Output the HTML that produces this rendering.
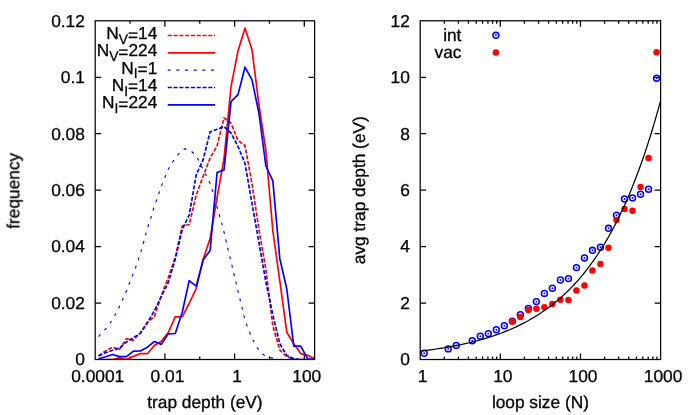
<!DOCTYPE html>
<html><head><meta charset="utf-8"><title>plot</title>
<style>
html,body{margin:0;padding:0;background:#fff;}
body{width:692px;height:415px;overflow:hidden;}
svg{display:block;}
text{font-family:"Liberation Sans",sans-serif;font-size:17.3px;fill:#000;stroke:#000;stroke-width:0.3px;text-rendering:geometricPrecision;}
.tk{font-size:17.35px;}
.ax{stroke:#000;stroke-width:1.25;fill:none;}
</style></head><body>
<svg width="692" height="415" viewBox="0 0 692 415">
<rect width="692" height="415" fill="#fff"/>
<g opacity="0.999">

<path class="ax" d="M95.2 303.05h6.0M314.6 303.05h-6.0"/>
<path class="ax" d="M420.2 303.05h6.0M660.6 303.05h-6.0"/>
<path class="ax" d="M95.2 246.60h6.0M314.6 246.60h-6.0"/>
<path class="ax" d="M420.2 246.60h6.0M660.6 246.60h-6.0"/>
<path class="ax" d="M95.2 190.15h6.0M314.6 190.15h-6.0"/>
<path class="ax" d="M420.2 190.15h6.0M660.6 190.15h-6.0"/>
<path class="ax" d="M95.2 133.70h6.0M314.6 133.70h-6.0"/>
<path class="ax" d="M420.2 133.70h6.0M660.6 133.70h-6.0"/>
<path class="ax" d="M95.2 77.25h6.0M314.6 77.25h-6.0"/>
<path class="ax" d="M420.2 77.25h6.0M660.6 77.25h-6.0"/>
<path class="ax" d="M130.05 359.5v-3.0M130.05 20.8v3.0"/>
<path class="ax" d="M164.90 359.5v-6.0M164.90 20.8v6.0"/>
<path class="ax" d="M199.75 359.5v-3.0M199.75 20.8v3.0"/>
<path class="ax" d="M234.60 359.5v-6.0M234.60 20.8v6.0"/>
<path class="ax" d="M269.45 359.5v-3.0M269.45 20.8v3.0"/>
<path class="ax" d="M304.30 359.5v-6.0M304.30 20.8v6.0"/>
<path class="ax" d="M444.32 359.5v-3.0M444.32 20.8v3.0"/>
<path class="ax" d="M458.43 359.5v-3.0M458.43 20.8v3.0"/>
<path class="ax" d="M468.45 359.5v-3.0M468.45 20.8v3.0"/>
<path class="ax" d="M476.21 359.5v-3.0M476.21 20.8v3.0"/>
<path class="ax" d="M482.56 359.5v-3.0M482.56 20.8v3.0"/>
<path class="ax" d="M487.92 359.5v-3.0M487.92 20.8v3.0"/>
<path class="ax" d="M492.57 359.5v-3.0M492.57 20.8v3.0"/>
<path class="ax" d="M496.67 359.5v-3.0M496.67 20.8v3.0"/>
<path class="ax" d="M500.33 359.5v-6.0M500.33 20.8v6.0"/>
<path class="ax" d="M524.46 359.5v-3.0M524.46 20.8v3.0"/>
<path class="ax" d="M538.57 359.5v-3.0M538.57 20.8v3.0"/>
<path class="ax" d="M548.58 359.5v-3.0M548.58 20.8v3.0"/>
<path class="ax" d="M556.34 359.5v-3.0M556.34 20.8v3.0"/>
<path class="ax" d="M562.69 359.5v-3.0M562.69 20.8v3.0"/>
<path class="ax" d="M568.05 359.5v-3.0M568.05 20.8v3.0"/>
<path class="ax" d="M572.70 359.5v-3.0M572.70 20.8v3.0"/>
<path class="ax" d="M576.80 359.5v-3.0M576.80 20.8v3.0"/>
<path class="ax" d="M580.47 359.5v-6.0M580.47 20.8v6.0"/>
<path class="ax" d="M604.59 359.5v-3.0M604.59 20.8v3.0"/>
<path class="ax" d="M618.70 359.5v-3.0M618.70 20.8v3.0"/>
<path class="ax" d="M628.71 359.5v-3.0M628.71 20.8v3.0"/>
<path class="ax" d="M636.48 359.5v-3.0M636.48 20.8v3.0"/>
<path class="ax" d="M642.82 359.5v-3.0M642.82 20.8v3.0"/>
<path class="ax" d="M648.19 359.5v-3.0M648.19 20.8v3.0"/>
<path class="ax" d="M652.83 359.5v-3.0M652.83 20.8v3.0"/>
<path class="ax" d="M656.93 359.5v-3.0M656.93 20.8v3.0"/>
<clipPath id="cl"><rect x="95.2" y="18.8" width="219.40000000000003" height="341.3"/></clipPath>
<g clip-path="url(#cl)" fill="none" stroke-linejoin="round" stroke-linecap="butt">
<polyline points="98.60,355.90 105.57,351.00 112.54,347.20 119.51,349.30 126.48,338.60 133.45,340.30 140.42,332.50 147.39,322.10 154.36,316.80 161.33,295.50 168.30,277.50 175.27,257.50 182.24,226.00 189.21,224.50 196.18,195.30 203.15,176.20 210.12,158.00 217.09,145.90 224.06,117.80 231.03,123.20 238.00,140.50 244.97,145.50 251.94,183.30 258.91,229.30 265.88,269.50 272.85,326.00 279.82,350.10 286.79,356.70 293.76,359.00 300.73,359.50 307.70,359.50 314.67,359.50" stroke="#ff0000" stroke-width="1.7" stroke-dasharray="4.1 1.7"/>
<polyline points="98.60,359.50 105.57,359.50 112.54,359.50 119.51,357.80 126.48,359.50 133.45,356.40 140.42,353.50 147.39,353.70 154.36,345.50 161.33,341.20 168.30,332.50 175.27,316.90 182.24,316.90 189.21,303.40 196.18,288.50 203.15,259.30 210.12,238.50 217.09,197.40 224.06,158.50 231.03,86.50 238.00,51.00 244.97,28.00 251.94,49.40 258.91,104.50 265.88,150.50 272.85,231.00 279.82,281.00 286.79,332.20 293.76,343.70 300.73,353.60 307.70,355.30 314.67,358.80" stroke="#ff0000" stroke-width="1.7"/>
<polyline points="98.60,336.60 99.50,335.40 105.60,329.00 110.30,323.00 115.00,315.30 119.00,307.50 122.50,299.70 126.20,291.60 129.20,283.70 132.40,275.80 135.50,267.70 138.40,259.40 141.10,251.20 143.50,242.80 145.70,234.50 148.00,226.40 150.80,218.20 153.20,209.80 156.10,201.40 158.90,193.20 161.80,185.10 165.00,177.20 168.10,169.50 172.80,161.70 177.90,154.80 180.60,151.70 183.00,149.50 185.50,148.90 188.50,149.60 191.30,151.20 194.30,154.00 197.10,157.30 200.80,164.90 204.90,172.90 208.90,180.50 211.60,187.80 214.10,196.80 216.40,204.90 218.90,213.50 221.30,221.70 223.50,230.20 225.60,238.50 227.50,247.20 229.50,255.30 231.60,263.90 233.50,272.10 235.60,280.80 237.50,289.10 239.60,297.60 241.60,306.00 243.50,314.00 245.40,321.80 248.90,330.50 252.30,338.50 256.40,346.60 261.60,353.60 268.50,357.40 277.80,359.00" stroke="#0000ff" stroke-width="1.15" stroke-dasharray="2.9 5.77"/>
<polyline points="98.60,355.90 105.57,352.80 112.54,350.30 119.51,348.10 126.48,342.00 133.45,337.70 140.42,333.40 147.39,322.90 154.36,310.80 161.33,296.50 168.30,282.50 175.27,259.00 182.24,229.50 189.21,215.00 196.18,175.00 203.15,159.60 210.12,131.90 217.09,129.20 224.06,126.70 231.03,133.00 238.00,146.50 244.97,163.30 251.94,203.00 258.91,242.50 265.88,282.00 272.85,315.00 279.82,343.70 286.79,355.50 293.76,358.80 300.73,359.50 307.70,359.50 314.67,359.50" stroke="#0000ff" stroke-width="1.7" stroke-dasharray="4.1 1.7"/>
<polyline points="98.60,358.70 105.57,356.70 112.54,354.50 119.51,356.60 126.48,356.70 133.45,351.10 140.42,351.00 147.39,347.20 154.36,341.50 161.33,344.40 168.30,333.90 175.27,333.50 182.24,312.20 189.21,280.60 196.18,286.20 203.15,260.10 210.12,250.60 217.09,172.50 224.06,169.90 231.03,101.60 238.00,94.60 244.97,67.20 251.94,79.60 258.91,113.00 265.88,166.00 272.85,180.80 279.82,258.70 286.79,289.00 293.76,346.10 300.73,346.10 307.70,358.80 314.67,359.50" stroke="#0000ff" stroke-width="1.7"/>
</g>
<rect class="ax" x="95.2" y="20.8" width="219.40000000000003" height="338.7"/>
<text class="tk" transform="translate(84.9 365.30) scale(1 1)" text-anchor="end">0</text>
<text class="tk" transform="translate(84.9 308.85) scale(1 1)" text-anchor="end">0.02</text>
<text class="tk" transform="translate(84.9 252.40) scale(1 1)" text-anchor="end">0.04</text>
<text class="tk" transform="translate(84.9 195.95) scale(1 1)" text-anchor="end">0.06</text>
<text class="tk" transform="translate(84.9 139.50) scale(1 1)" text-anchor="end">0.08</text>
<text class="tk" transform="translate(84.9 83.05) scale(1 1)" text-anchor="end">0.1</text>
<text class="tk" transform="translate(84.9 26.60) scale(1 1)" text-anchor="end">0.12</text>
<text class="tk" transform="translate(409.9 365.30) scale(1 1)" text-anchor="end">0</text>
<text class="tk" transform="translate(409.9 308.85) scale(1 1)" text-anchor="end">2</text>
<text class="tk" transform="translate(409.9 252.40) scale(1 1)" text-anchor="end">4</text>
<text class="tk" transform="translate(409.9 195.95) scale(1 1)" text-anchor="end">6</text>
<text class="tk" transform="translate(409.9 139.50) scale(1 1)" text-anchor="end">8</text>
<text class="tk" transform="translate(409.9 83.05) scale(1 1)" text-anchor="end">10</text>
<text class="tk" transform="translate(409.9 26.60) scale(1 1)" text-anchor="end">12</text>
<text class="tk" transform="translate(97.70 382.4) scale(1 1)" text-anchor="middle">0.0001</text>
<text class="tk" transform="translate(167.40 382.4) scale(1 1)" text-anchor="middle">0.01</text>
<text class="tk" transform="translate(237.10 382.4) scale(1 1)" text-anchor="middle">1</text>
<text class="tk" transform="translate(306.80 382.4) scale(1 1)" text-anchor="middle">100</text>
<text class="tk" transform="translate(422.70 382.4) scale(1 1)" text-anchor="middle">1</text>
<text class="tk" transform="translate(502.83 382.4) scale(1 1)" text-anchor="middle">10</text>
<text class="tk" transform="translate(582.97 382.4) scale(1 1)" text-anchor="middle">100</text>
<text class="tk" transform="translate(663.10 382.4) scale(1 1)" text-anchor="middle">1000</text>
<text x="204.90" y="408.1" text-anchor="middle">trap depth (eV)</text>
<text x="540.40" y="408.1" text-anchor="middle">loop size (N)</text>
<text transform="translate(19.3 190.8) rotate(-90)" text-anchor="middle">frequency</text>
<text transform="translate(365.2 190.2) rotate(-90)" text-anchor="middle">avg trap depth (eV)</text>
<text x="157.3" y="39.10" text-anchor="end">N<tspan font-size="13.84" dy="4.6">V</tspan><tspan dy="-3.2">=</tspan><tspan dy="-1.4">14</tspan></text>
<path d="M167.7 35.50H215.2" fill="none" stroke="#ff0000" stroke-dasharray="4.1 1.7" stroke-width="1.7"/>
<text x="157.3" y="56.43" text-anchor="end">N<tspan font-size="13.84" dy="4.6">V</tspan><tspan dy="-3.2">=</tspan><tspan dy="-1.4">224</tspan></text>
<path d="M167.7 52.83H215.2" fill="none" stroke="#ff0000" stroke-width="1.7"/>
<text x="157.3" y="73.76" text-anchor="end">N<tspan font-size="13.84" dy="4.6">I</tspan><tspan dy="-3.2">=</tspan><tspan dy="-1.4">1</tspan></text>
<path d="M167.7 70.16H215.2" fill="none" stroke="#0000ff" stroke-dasharray="2.9 5.77" stroke-width="1.15"/>
<text x="157.3" y="91.09" text-anchor="end">N<tspan font-size="13.84" dy="4.6">I</tspan><tspan dy="-3.2">=</tspan><tspan dy="-1.4">14</tspan></text>
<path d="M167.7 87.49H215.2" fill="none" stroke="#0000ff" stroke-dasharray="4.1 1.7" stroke-width="1.7"/>
<text x="157.3" y="108.42" text-anchor="end">N<tspan font-size="13.84" dy="4.6">I</tspan><tspan dy="-3.2">=</tspan><tspan dy="-1.4">224</tspan></text>
<path d="M167.7 104.82H215.2" fill="none" stroke="#0000ff" stroke-width="1.7"/>
<circle cx="424.20" cy="353.20" r="2.95" fill="none" stroke="#0000ff" stroke-width="1.55"/><circle cx="424.20" cy="353.20" r="0.95" fill="#0000ff"/>
<circle cx="448.24" cy="348.90" r="2.95" fill="none" stroke="#0000ff" stroke-width="1.55"/><circle cx="448.24" cy="348.90" r="0.95" fill="#0000ff"/>
<circle cx="456.25" cy="345.40" r="2.95" fill="none" stroke="#0000ff" stroke-width="1.55"/><circle cx="456.25" cy="345.40" r="0.95" fill="#0000ff"/>
<circle cx="472.28" cy="340.70" r="2.95" fill="none" stroke="#0000ff" stroke-width="1.55"/><circle cx="472.28" cy="340.70" r="0.95" fill="#0000ff"/>
<circle cx="480.29" cy="336.20" r="2.95" fill="none" stroke="#0000ff" stroke-width="1.55"/><circle cx="480.29" cy="336.20" r="0.95" fill="#0000ff"/>
<circle cx="488.30" cy="333.60" r="2.95" fill="none" stroke="#0000ff" stroke-width="1.55"/><circle cx="488.30" cy="333.60" r="0.95" fill="#0000ff"/>
<circle cx="496.32" cy="329.80" r="2.95" fill="none" stroke="#0000ff" stroke-width="1.55"/><circle cx="496.32" cy="329.80" r="0.95" fill="#0000ff"/>
<circle cx="504.33" cy="325.80" r="2.95" fill="none" stroke="#0000ff" stroke-width="1.55"/><circle cx="504.33" cy="325.80" r="0.95" fill="#0000ff"/>
<circle cx="512.34" cy="321.10" r="2.95" fill="none" stroke="#0000ff" stroke-width="1.55"/><circle cx="512.34" cy="321.10" r="0.95" fill="#0000ff"/>
<circle cx="520.36" cy="314.70" r="2.95" fill="none" stroke="#0000ff" stroke-width="1.55"/><circle cx="520.36" cy="314.70" r="0.95" fill="#0000ff"/>
<circle cx="528.37" cy="308.40" r="2.95" fill="none" stroke="#0000ff" stroke-width="1.55"/><circle cx="528.37" cy="308.40" r="0.95" fill="#0000ff"/>
<circle cx="536.38" cy="301.60" r="2.95" fill="none" stroke="#0000ff" stroke-width="1.55"/><circle cx="536.38" cy="301.60" r="0.95" fill="#0000ff"/>
<circle cx="544.39" cy="293.40" r="2.95" fill="none" stroke="#0000ff" stroke-width="1.55"/><circle cx="544.39" cy="293.40" r="0.95" fill="#0000ff"/>
<circle cx="552.41" cy="288.20" r="2.95" fill="none" stroke="#0000ff" stroke-width="1.55"/><circle cx="552.41" cy="288.20" r="0.95" fill="#0000ff"/>
<circle cx="560.42" cy="280.00" r="2.95" fill="none" stroke="#0000ff" stroke-width="1.55"/><circle cx="560.42" cy="280.00" r="0.95" fill="#0000ff"/>
<circle cx="568.43" cy="278.60" r="2.95" fill="none" stroke="#0000ff" stroke-width="1.55"/><circle cx="568.43" cy="278.60" r="0.95" fill="#0000ff"/>
<circle cx="576.45" cy="267.60" r="2.95" fill="none" stroke="#0000ff" stroke-width="1.55"/><circle cx="576.45" cy="267.60" r="0.95" fill="#0000ff"/>
<circle cx="584.46" cy="257.90" r="2.95" fill="none" stroke="#0000ff" stroke-width="1.55"/><circle cx="584.46" cy="257.90" r="0.95" fill="#0000ff"/>
<circle cx="592.47" cy="250.30" r="2.95" fill="none" stroke="#0000ff" stroke-width="1.55"/><circle cx="592.47" cy="250.30" r="0.95" fill="#0000ff"/>
<circle cx="600.49" cy="247.20" r="2.95" fill="none" stroke="#0000ff" stroke-width="1.55"/><circle cx="600.49" cy="247.20" r="0.95" fill="#0000ff"/>
<circle cx="608.50" cy="228.30" r="2.95" fill="none" stroke="#0000ff" stroke-width="1.55"/><circle cx="608.50" cy="228.30" r="0.95" fill="#0000ff"/>
<circle cx="616.51" cy="215.20" r="2.95" fill="none" stroke="#0000ff" stroke-width="1.55"/><circle cx="616.51" cy="215.20" r="0.95" fill="#0000ff"/>
<circle cx="624.52" cy="199.00" r="2.95" fill="none" stroke="#0000ff" stroke-width="1.55"/><circle cx="624.52" cy="199.00" r="0.95" fill="#0000ff"/>
<circle cx="632.54" cy="197.90" r="2.95" fill="none" stroke="#0000ff" stroke-width="1.55"/><circle cx="632.54" cy="197.90" r="0.95" fill="#0000ff"/>
<circle cx="640.55" cy="194.20" r="2.95" fill="none" stroke="#0000ff" stroke-width="1.55"/><circle cx="640.55" cy="194.20" r="0.95" fill="#0000ff"/>
<circle cx="648.56" cy="189.20" r="2.95" fill="none" stroke="#0000ff" stroke-width="1.55"/><circle cx="648.56" cy="189.20" r="0.95" fill="#0000ff"/>
<circle cx="656.58" cy="78.15" r="2.95" fill="none" stroke="#0000ff" stroke-width="1.55"/><circle cx="656.58" cy="78.15" r="0.95" fill="#0000ff"/>
<circle cx="512.34" cy="321.50" r="3.25" fill="#ff0000"/>
<circle cx="520.36" cy="316.90" r="3.25" fill="#ff0000"/>
<circle cx="528.37" cy="310.00" r="3.25" fill="#ff0000"/>
<circle cx="536.38" cy="308.70" r="3.25" fill="#ff0000"/>
<circle cx="544.39" cy="307.20" r="3.25" fill="#ff0000"/>
<circle cx="552.41" cy="303.90" r="3.25" fill="#ff0000"/>
<circle cx="560.42" cy="299.70" r="3.25" fill="#ff0000"/>
<circle cx="568.43" cy="300.00" r="3.25" fill="#ff0000"/>
<circle cx="576.45" cy="290.40" r="3.25" fill="#ff0000"/>
<circle cx="584.46" cy="285.60" r="3.25" fill="#ff0000"/>
<circle cx="592.47" cy="270.60" r="3.25" fill="#ff0000"/>
<circle cx="600.49" cy="264.10" r="3.25" fill="#ff0000"/>
<circle cx="608.50" cy="247.70" r="3.25" fill="#ff0000"/>
<circle cx="616.51" cy="220.10" r="3.25" fill="#ff0000"/>
<circle cx="624.52" cy="209.10" r="3.25" fill="#ff0000"/>
<circle cx="632.54" cy="210.80" r="3.25" fill="#ff0000"/>
<circle cx="640.55" cy="187.00" r="3.25" fill="#ff0000"/>
<circle cx="648.56" cy="158.10" r="3.25" fill="#ff0000"/>
<circle cx="656.58" cy="52.30" r="3.25" fill="#ff0000"/>
<polyline points="420.20,351.12 422.20,350.88 424.20,350.64 426.20,350.38 428.20,350.12 430.20,349.86 432.20,349.58 434.20,349.30 436.20,349.00 438.20,348.70 440.20,348.40 442.20,348.08 444.20,347.75 446.20,347.41 448.20,347.07 450.20,346.71 452.20,346.34 454.20,345.97 456.20,345.58 458.20,345.18 460.20,344.77 462.20,344.34 464.20,343.91 466.20,343.46 468.20,343.00 470.20,342.52 472.20,342.03 474.20,341.53 476.20,341.01 478.20,340.48 480.20,339.93 482.20,339.36 484.20,338.78 486.20,338.18 488.20,337.57 490.20,336.93 492.20,336.28 494.20,335.61 496.20,334.92 498.20,334.21 500.20,333.48 502.20,332.73 504.20,331.95 506.20,331.15 508.20,330.33 510.20,329.49 512.20,328.62 514.20,327.73 516.20,326.81 518.20,325.86 520.20,324.88 522.20,323.88 524.20,322.85 526.20,321.79 528.20,320.69 530.20,319.57 532.20,318.41 534.20,317.22 536.20,315.99 538.20,314.73 540.20,313.43 542.20,312.09 544.20,310.71 546.20,309.30 548.20,307.84 550.20,306.34 552.20,304.80 554.20,303.21 556.20,301.57 558.20,299.89 560.20,298.16 562.20,296.37 564.20,294.54 566.20,292.65 568.20,290.71 570.20,288.71 572.20,286.65 574.20,284.53 576.20,282.36 578.20,280.11 580.20,277.80 582.20,275.43 584.20,272.98 586.20,270.47 588.20,267.88 590.20,265.21 592.20,262.47 594.20,259.65 596.20,256.74 598.20,253.75 600.20,250.68 602.20,247.51 604.20,244.25 606.20,240.90 608.20,237.44 610.20,233.89 612.20,230.24 614.20,226.47 616.20,222.60 618.20,218.62 620.20,214.52 622.20,210.30 624.20,205.95 626.20,201.48 628.20,196.88 630.20,192.15 632.20,187.27 634.20,182.26 636.20,177.10 638.20,171.79 640.20,166.32 642.20,160.69 644.20,154.90 646.20,148.95 648.20,142.81 650.20,136.50 652.20,130.01 654.20,123.32 656.20,116.45 658.20,109.37 660.20,102.08 660.60,100.60" fill="none" stroke="#000" stroke-width="1.25"/>
<rect class="ax" x="420.2" y="20.8" width="240.40000000000003" height="338.7"/>
<text x="461.4" y="40.9" text-anchor="end">int</text>
<text x="461.4" y="58.3" text-anchor="end">vac</text>
<circle cx="495.90" cy="35.30" r="2.95" fill="none" stroke="#0000ff" stroke-width="1.55"/><circle cx="495.90" cy="35.30" r="0.95" fill="#0000ff"/>
<circle cx="495.90" cy="52.60" r="3.25" fill="#ff0000"/>
</g></svg></body></html>
